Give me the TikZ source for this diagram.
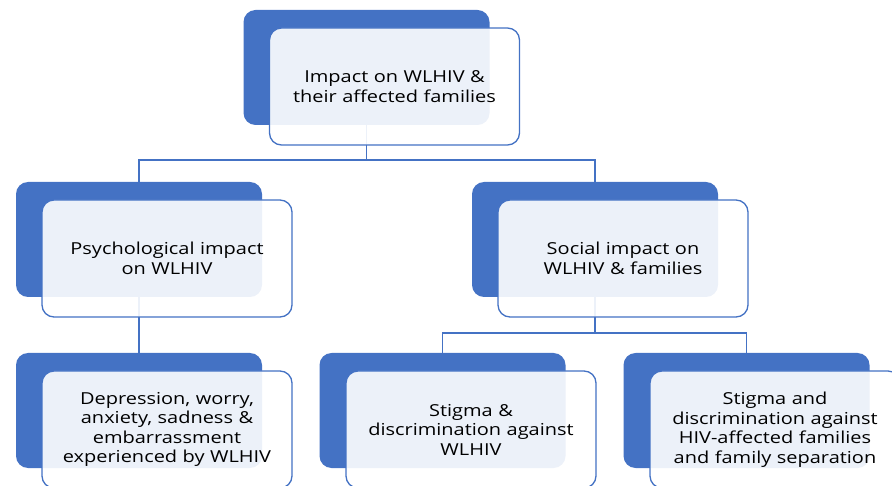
\documentclass[tikz,border=0pt]{standalone}
\usepackage{fontspec}
\setmainfont{Open Sans}[FakeStretch=1.21]
\definecolor{smartblue}{HTML}{4472C4}

\begin{document}
\begin{tikzpicture}[x=1pt,y=-1pt,
  back/.style={fill=smartblue,rounded corners=12pt,minimum width=246pt,minimum height=115pt,inner sep=0pt},
  front/.style={draw=smartblue,line width=1.3pt,fill=white,fill opacity=0.9,text opacity=1,rounded corners=12pt,
    minimum width=250pt,minimum height=117pt,inner sep=0pt,text width=245pt,align=center,
    font=\fontsize{16.5}{19.5}\selectfont},
  conn/.style={draw=smartblue,line width=1.5pt}]
\useasboundingbox (0,0) rectangle (892,486);
\clip (0,0) rectangle (892,486);

\node[back] (top-b) at (366.5,67.5) {};
\node[back] (psy-b) at (139,239.5) {};
\node[back] (soc-b) at (595,239.5) {};
\node[back] (dep-b) at (139,410.5) {};
\node[back] (stw-b) at (442.5,410.5) {};
\node[back] (stf-b) at (746.5,410.5) {};

\path[conn] (top-b.south) -- ++(0,35) -| (psy-b.north);
\path[conn] (top-b.south) -- ++(0,35) -| (soc-b.north);
\path[conn] (psy-b.south) -- (dep-b.north);
\path[conn] (soc-b.south) -- ++(0,36) -| (stw-b.north);
\path[conn] (soc-b.south) -- ++(0,36) -| (stf-b.north);

\node[front] (top) at (394.5,86.5) {Impact on WLHIV \&\\their affected families};
\node[front] (psy) at (167,258.5) {Psychological impact\\on WLHIV};
\node[front] (soc) at (623,258.5) {Social impact on\\WLHIV \& families};
\node[front] (dep) at (167,429.5) {Depression, worry,\\anxiety, sadness \&\\embarrassment\\experienced by WLHIV};
\node[front] (stw) at (471,429.5) {Stigma \&\\discrimination against\\WLHIV};
\node[front] (stf) at (775,429.5) {Stigma and\\discrimination against\\HIV-affected families\\and family separation};
\end{tikzpicture}
\end{document}
